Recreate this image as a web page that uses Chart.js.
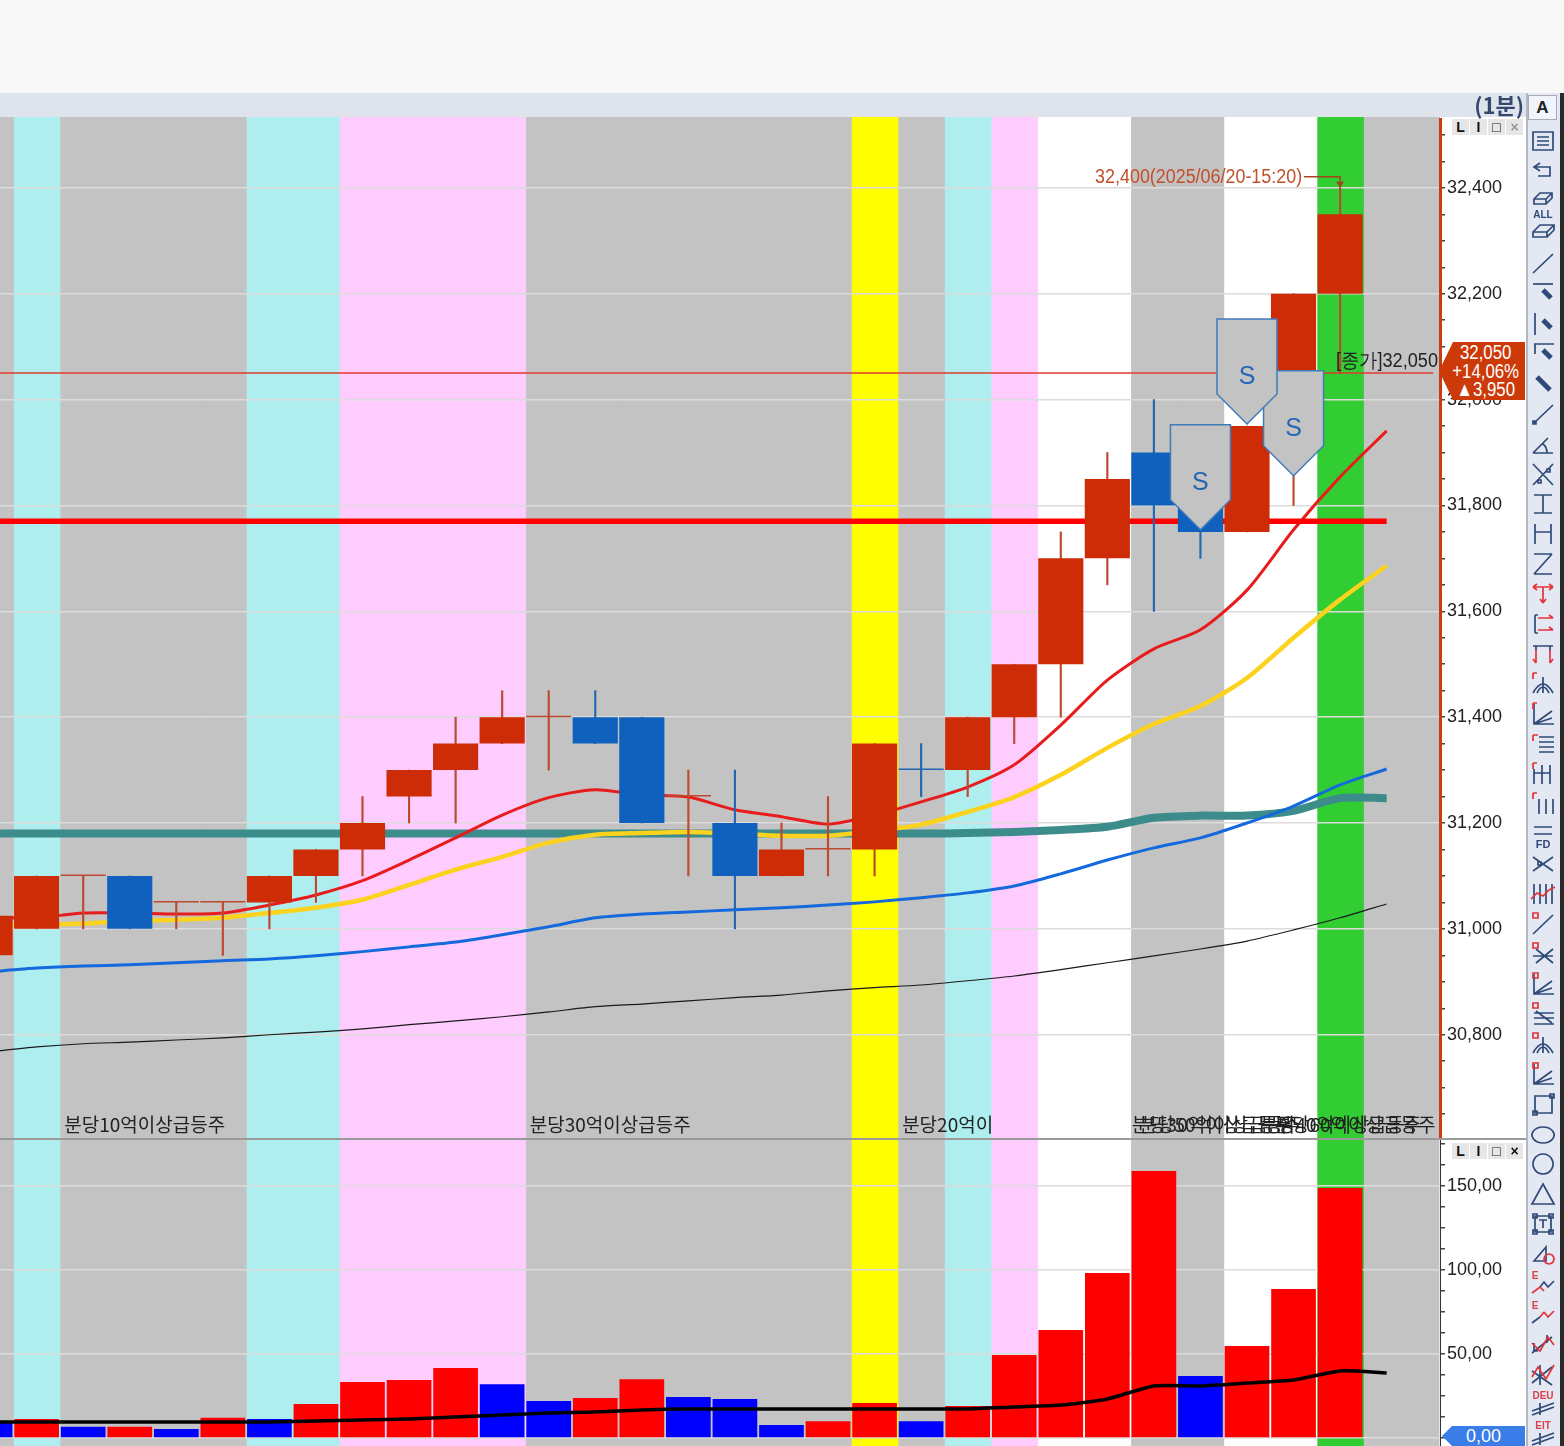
<!DOCTYPE html>
<html>
<head>
<meta charset="utf-8">
<title>1분 차트</title>
<script src="https://cdn.jsdelivr.net/npm/chart.js@4"></script>
<style>
html, body { margin: 0; padding: 0; background: #fff; width: 1564px; height: 1446px; overflow: hidden; }
canvas { position: absolute; left: 0; }
div, span { position: absolute; }
#top { left: 0; top: 0; width: 1564px; height: 93px; background: #f8f8f8; }
#strip { left: 0; top: 93px; width: 1527px; height: 24px; background: #dfe3ec; }
#unit { right: 40px; top: 91px; font: bold 22px "Noto Sans CJK KR"; color: #33496e; line-height: 26px; }
#sep { left: 0; top: 1138px; width: 1526px; height: 2px; background: #9a9a9a; }
#tools { left: 1526px; top: 93px; width: 34px; height: 1353px; background: #e3e8f3; border-left: 2px solid #b4b8c0; box-sizing: border-box; }
#edge { left: 1560px; top: 93px; width: 4px; height: 1353px; background: #2a2a2a; }
#abtn { left: 1528px; top: 95px; width: 29px; height: 25px; background: #f1f4fa; border: 1px solid #aab; box-sizing: border-box; text-align: center; font: bold 17px "Liberation Sans"; line-height: 24px; color: #222; }
#badge { left: 1439px; top: 342px; width: 86px; height: 58px; background: #cc3a0a; clip-path: polygon(0 50%, 14px 0, 100% 0, 100% 100%, 14px 100%); }
#badge div { left: 8px; top: 1px; width: 92px; color: #fff; font: 20px/18.6px "Liberation Sans"; text-align: center; transform: scaleX(0.84); transform-origin: 0 0; }
#zero { left: 1442px; top: 1426px; width: 83px; height: 20px; background: #3a7de8; color: #fff; font: 18px/21px "Liberation Sans"; text-align: center; clip-path: polygon(0 50%, 10px 0, 100% 0, 100% 100%, 10px 100%); }
.mini { width: 17px; height: 16px; background: #e6e6e6; font: bold 14px/16px "Liberation Sans"; text-align: center; color: #111; }
</style>
</head>
<body>
<div id="top"></div>
<div id="strip"></div>
<canvas id="bands" width="1524" height="1329" style="top:117px"></canvas>
<canvas id="price" width="1524" height="1021" style="top:118px"></canvas>
<canvas id="volume" width="1524" height="306" style="top:1140px"></canvas>
<div id="sep"></div>
<div id="unit">(1분)</div>
<div id="tools"></div>
<div id="edge"></div>
<div id="abtn">A</div>
<div id="badge"><div>32,050<br>+14,06%<br>▲3,950</div></div>
<div id="zero">0,00</div>
<script>
// slot 0 sits just off the left edge, slot 30 is the empty one after the last candle
const bandKinds = ['gray','cyan','gray','gray','gray','gray','cyan','cyan','pink','pink','pink','pink','gray','gray','gray','gray','gray','gray','gray','yellow','gray','cyan','pink','white','white','gray','gray','white','white','green','gray','gray'];
const candleSide = ['up','up','up','down','up','up','up','up','up','up','up','up','up','down','down','up','down','up','up','up','down','up','up','up','up','down','down','up','up','up'];
const candleOpen = [30950,31000,31100,31100,31050,31050,31050,31100,31150,31250,31300,31350,31400,31400,31400,31250,31200,31100,31150,31150,31300,31300,31400,31500,31700,31900,31800,31750,31950,32200];
const candleClose = [31025,31100,31100,31000,31050,31050,31100,31150,31200,31300,31350,31400,31400,31350,31200,31250,31100,31150,31150,31350,31300,31400,31500,31700,31850,31800,31750,31950,32200,32350];
const candleHigh = [31025,31100,31100,31100,31050,31050,31100,31150,31250,31300,31400,31450,31450,31450,31400,31300,31300,31200,31250,31350,31350,31400,31500,31750,31900,32000,31800,31950,32200,32400];
const candleLow = [30950,31000,31000,31000,31000,30950,31000,31050,31100,31200,31200,31350,31300,31350,31200,31100,31000,31100,31100,31100,31250,31250,31350,31400,31650,31600,31700,31750,31800,32050];

const maRed = [31021,31021,31030,31030,31028,31030,31045,31064,31091,31130,31172,31215,31248,31263,31253,31249,31225,31212,31198,31215,31240,31268,31310,31385,31470,31529,31565,31640,31754,31854,31941];
const maYellow = [31008,31008,31010,31015,31017,31021,31030,31040,31055,31083,31112,31136,31163,31178,31181,31183,31180,31176,31176,31185,31197,31221,31249,31291,31342,31387,31421,31474,31550,31622,31686];
const maBlue = [30919,30926,30930,30932,30936,30940,30943,30949,30957,30966,30975,30989,31004,31021,31028,31032,31036,31040,31045,31051,31059,31068,31081,31104,31130,31153,31172,31200,31232,31272,31302];
const maBlack = [30768,30777,30783,30786,30790,30794,30800,30805,30811,30819,30826,30834,30843,30853,30858,30864,30870,30875,30883,30889,30894,30902,30911,30923,30936,30949,30962,30977,30998,31021,31047];
const maTeal = [31180,31180,31180,31180,31180,31180,31180,31180,31180,31180,31180,31180,31180,31180,31180,31180,31180,31180,31180,31180,31180,31181,31183,31187,31193,31210,31214,31214,31223,31247,31247];
const levelRed = [31770,31770,31770,31770,31770,31770,31770,31770,31770,31770,31770,31770,31770,31770,31770,31770,31770,31770,31770,31770,31770,31770,31770,31770,31770,31770,31770,31770,31770,31770,31770];
const closeLevel = [32050,32050,32050,32050,32050,32050,32050,32050,32050,32050,32050,32050,32050,32050,32050,32050,32050,32050,32050,32050,32050,32050,32050,32050,32050,32050,32050,32050,32050,32050,32050,32050];

const volumes = [9.5,11.3,6.7,6.7,5.4,12,11.3,20.2,33.3,34.5,41.7,32,22,23.8,35,24.4,23.2,7.7,10,20.8,10,19,49.4,64.3,98.2,159,36.9,54.8,88.7,148.8,0.4];
const volumeSide = ['down','up','down','up','down','up','down','up','up','up','up','down','down','up','up','down','down','down','up','up','down','up','up','up','up','up','down','up','up','up','down'];
const volumeMa = [9.5,9.5,9.5,9.5,9.5,9.5,9.5,10.1,10.7,11.3,12.5,13.7,14.9,15.5,16.7,17.3,17.3,17.3,17.3,17.3,17.3,17.3,18.5,19.6,23.2,31,31,32.7,34.5,39.9,38.7];

const sellSlots = [28, 27, 26];
const sellPrices = [31856, 31954, 31754];
const noteSlots = [2, 12, 20, 24.93, 25.1, 27.7, 28];
const noteTexts = ['분당10억이상급등주','분당30억이상급등주','분당20억이','분당30억이상급등주','분당50억이상급등주','분당40억이상급등주','분당60억이상급등주'];
const highSlot = 29, highPrice = 32400, highText = '32,400(2025/06/20-15:20)';
const closeText = '[종가]32,050';

const SANS = '"Liberation Sans"';
const KR = '"Noto Sans CJK KR"';
const bandColors = { gray: '#c3c3c3', cyan: '#aeeeee', pink: '#ffccff', yellow: '#ffff00', white: '#ffffff', green: '#32cd32' };
const bodyColors = { up: '#cd2c06', down: '#1060be' };
const wickColors = { up: '#bb4a2e', down: '#2467b4' };
const volColors = { up: '#ff0000', down: '#0000ff' };

const slotMin = 0.213, slotMax = 31.146;
const pts = vals => vals.map((v, i) => ({ x: i, y: v }));
const noPad = s => { s.paddingTop = 0; s.paddingBottom = 0; s.paddingLeft = 0; s.paddingRight = 0; };
const xAxis = {
    type: 'linear', min: slotMin, max: slotMax, offset: false,
    grid: { color: '#e6e2e6', drawTicks: false, lineWidth: 1.5 },
    border: { display: false },
    ticks: { display: false },
    afterBuildTicks(s) { s.ticks = [{ value: 8.52 }]; },
    afterFit(s) { s.height = 0; noPad(s); }
};
const lineSet = (vals, color, width, order) => ({
    type: 'line', data: pts(vals), borderColor: color, borderWidth: width,
    pointRadius: 0, tension: 0.25, order: order, yAxisID: 'y'
});

const overlay = {
    id: 'overlay',
    afterDatasetsDraw(chart) {
        const c = chart.ctx, xs = chart.scales.x, ys = chart.scales.y;
        c.save();
        // annotation strings along the bottom of the price panel
        c.font = '19px ' + KR;
        c.fillStyle = '#222';
        c.textBaseline = 'middle';
        c.textAlign = 'left';
        noteTexts.forEach((t, i) => {
            c.fillText(t, xs.getPixelForValue(noteSlots[i]) - 19, ys.getPixelForValue(30630));
        });
        // sell markers
        sellSlots.forEach((s, i) => {
            const x = xs.getPixelForValue(s), y = ys.getPixelForValue(sellPrices[i]);
            c.beginPath();
            c.moveTo(x, y);
            c.lineTo(x + 30, y - 30);
            c.lineTo(x + 30, y - 105);
            c.lineTo(x - 30, y - 105);
            c.lineTo(x - 30, y - 30);
            c.closePath();
            c.fillStyle = '#c3c3c3';
            c.fill();
            c.strokeStyle = '#3f7cba';
            c.lineWidth = 1.5;
            c.stroke();
            c.fillStyle = '#2467b4';
            c.font = '25px ' + SANS;
            c.textAlign = 'center';
            c.fillText('S', x, y - 47);
        });
        // highest price callout
        const hx = xs.getPixelForValue(highSlot), hy = ys.getPixelForValue(highPrice);
        c.strokeStyle = '#a8431c';
        c.lineWidth = 1.5;
        c.beginPath();
        c.moveTo(hx - 36, hy - 11);
        c.lineTo(hx, hy - 11);
        c.lineTo(hx, hy);
        c.stroke();
        c.fillStyle = '#a8431c';
        c.beginPath();
        c.moveTo(hx - 4, hy - 6);
        c.lineTo(hx + 4, hy - 6);
        c.lineTo(hx, hy);
        c.fill();
        c.fillStyle = '#c2502c';
        c.font = '20px ' + SANS;
        c.textAlign = 'right';
        c.fillText(highText, hx - 38, hy - 10, 207);
        // close label
        c.fillStyle = '#222';
        c.fillText(closeText, 1438, ys.getPixelForValue(closeLevel[0]) - 12, 102);
        c.restore();
    }
};

new Chart(document.getElementById('bands'), {
    type: 'bar',
    data: { datasets: [{
        data: bandKinds.map((k, i) => ({ x: i, y: [0, 1] })),
        backgroundColor: bandKinds.map(k => bandColors[k]),
        barPercentage: 1, categoryPercentage: 1, inflateAmount: 0.5
    }] },
    options: {
        responsive: false, animation: false,
        layout: { padding: { right: 84 } },
        plugins: { legend: { display: false }, tooltip: { enabled: false } },
        scales: {
            x: { type: 'linear', min: 0.192, max: 31.125, offset: false, display: false },
            y: { min: 0, max: 1, display: false }
        }
    }
});

const wickSet = {
    data: candleLow.map((v, i) => ({ x: i, y: [v, candleHigh[i]] })),
    backgroundColor: candleSide.map(s => wickColors[s]),
    barThickness: 1.5, grouped: false, order: 2, yAxisID: 'y'
};
const bodySet = {
    data: candleOpen.map((v, i) => ({ x: i, y: [Math.min(v, candleClose[i]), Math.max(v, candleClose[i])] })),
    backgroundColor: candleSide.map((s, i) => candleOpen[i] === candleClose[i] ? wickColors[s] : bodyColors[s]),
    barPercentage: 0.97, categoryPercentage: 1, minBarLength: 1.5, grouped: false, order: 1, yAxisID: 'y'
};

new Chart(document.getElementById('price'), {
    type: 'bar',
    data: { datasets: [
        bodySet,
        wickSet,
        lineSet(levelRed, '#ff0000', 5.5, 3),
        lineSet(closeLevel, '#e03a30', 1.5, 4),
        lineSet(maRed, '#e81c1c', 3, 5),
        lineSet(maYellow, '#fbd21e', 4.5, 6),
        lineSet(maBlue, '#1469dc', 3, 7),
        lineSet(maBlack, '#1a1a1a', 1.2, 8),
        lineSet(maTeal, '#3d8c8c', 8, 9)
    ] },
    plugins: [overlay],
    options: {
        responsive: false, animation: false,
        layout: { padding: 0 },
        plugins: { legend: { display: false }, tooltip: { enabled: false } },
        scales: {
            x: xAxis,
            y: {
                position: 'right', min: 30603, max: 32532,
                afterFit(s) { s.width = 84; noPad(s); },
                border: { color: '#cc3a12', width: 3 },
                grid: {
                    tickLength: 5, tickColor: '#444', lineWidth: 1.5,
                    color: ctx => ctx.tick && ctx.tick.value % 200 === 0 ? '#dcdcdc' : 'transparent'
                },
                ticks: {
                    stepSize: 50, autoSkip: false, includeBounds: false, padding: 2, color: '#222',
                    font: { family: SANS, size: 18 },
                    callback: v => v % 200 === 0 ? v.toLocaleString('en-US') : ''
                }
            }
        }
    }
});

new Chart(document.getElementById('volume'), {
    type: 'bar',
    data: { datasets: [
        {
            data: pts(volumes), backgroundColor: volumeSide.map(s => volColors[s]),
            barPercentage: 0.96, categoryPercentage: 1, grouped: false, order: 2
        },
        { type: 'line', data: pts(volumeMa), borderColor: '#000', borderWidth: 3.5, pointRadius: 0, tension: 0.2, order: 1 }
    ] },
    options: {
        responsive: false, animation: false,
        layout: { padding: 0 },
        plugins: { legend: { display: false }, tooltip: { enabled: false } },
        scales: {
            x: xAxis,
            y: {
                position: 'right', min: -4.76, max: 177.4,
                afterFit(s) { s.width = 84; noPad(s); },
                border: { color: '#333', width: 1 },
                grid: {
                    tickLength: 5, tickColor: '#444', lineWidth: 1.5,
                    color: ctx => ctx.tick && ctx.tick.value % 50 === 0 ? '#dcdcdc' : 'transparent'
                },
                ticks: {
                    stepSize: 12.5, autoSkip: false, includeBounds: false, padding: 2, color: '#222',
                    font: { family: SANS, size: 18 },
                    callback: v => v % 50 === 0 && v > 0 ? v.toFixed(2).replace('.', ',') : ''
                }
            }
        }
    }
});

// small L I box x buttons on each panel
[119, 1143].forEach(top => {
    ['L', 'I', '□', '×'].forEach((t, i) => {
        const b = document.createElement('span');
        b.className = 'mini';
        b.style.left = (1452 + i * 18) + 'px';
        b.style.top = top + 'px';
        b.textContent = t;
        if (top === 119 && i === 3) b.style.color = '#999';
        document.body.appendChild(b);
    });
});

// drawing toolbar: [navy path, red path, small caption, thick pen path]
const PEN = 'M15 11l8 8';
const toolIcons = [
    ['M5 3h20v18H5z M9 8h12M9 12h12M9 16h12'],
    ['M7 8h15v9H10 M12 4L6 8l6 4'],
    ['M6 10l6-6h12v5l-6 6H6z M6 10h12v5M18 10l6-6', '', 'ALL'],
    ['M5 13l7-7h14v5l-7 7H5z M5 13h14v5M19 13l7-7'],
    ['M5 24L25 5'],
    ['M5 5h20', '', '', PEN],
    ['M7 4v22', '', '', PEN],
    ['M6 5h20 M7 5v10', '', '', PEN],
    ['', '', '', 'M9 8l13 13'],
    ['M6 24L25 6 M5 22h3v3H5z'],
    ['M5 24h20 M5 24L20 9 M15 15q4 3 4 9'],
    ['M5 26L25 5 M5 5l20 21 M10 21h3v3h-3z M19 10h3v3h-3z'],
    ['M6 6h18 M6 24h18 M15 6v18'],
    ['M7 5v20 M23 5v20 M7 13h16'],
    ['M6 5h18 M6 25h18 M24 5L6 25'],
    ['', 'M5 8h20 M5 8l4-3 M5 8l4 3 M25 8l-4-3 M25 8l-4 3 M15 8v16 M15 24l-3-4 M15 24l3-4'],
    ['M7 6v18 M7 6h3 M7 24h3', 'M10 9h15 M10 21h15 M25 9l-4-3 M25 21l-4-3'],
    ['M5 7h20 M8 7v4 M22 7v4', 'M8 11v13 M22 11v13 M8 24l-3-4 M22 24l3-4'],
    ['M5 24q10-18 20 0 M15 8v16 M9 24q6-12 12 0', 'M5 4h4 M5 4v6'],
    ['M6 5v20h20 M6 25L24 12 M6 25l18-6', 'M5 4h4 M5 4v6'],
    ['M11 8h15 M11 13h15 M11 18h15 M11 23h15', 'M5 6h5 M5 6v6'],
    ['M6 10v15 M14 6v19 M22 6v19 M6 14h16', 'M5 4h4 M5 4v6'],
    ['M11 10v15 M18 10v15 M25 10v15', 'M5 4h4 M5 4v6'],
    ['M6 8h18 M6 15h18', '', 'FD'],
    ['M5 22L25 8 M5 8l20 14 M10 13h3v3h-3z'],
    ['M6 5v20 M12 5v20 M18 5v20 M24 5v20', 'M3 20l6-6 6 3 6-6 6-3'],
    ['M5 25L25 6', 'M5 4h5v5H5z'],
    ['M8 24L25 10 M8 10l17 14 M5 17h20', 'M5 4h5v5H5z'],
    ['M6 5v20h20 M6 25L24 12 M6 25l18-6', 'M5 4h5v5H5z'],
    ['M6 14h20 M6 19h20 M6 25h20 M8 12l16 12', 'M5 4h5v5H5z'],
    ['M5 24q10-18 20 0 M15 8v16 M9 24q6-12 12 0', 'M5 4h5v5H5z'],
    ['M6 5v20h20 M6 25L24 12 M6 25l18-6', 'M5 4h5v5H5z'],
    ['M7 7h17v17H7z M5 22h4v4H5z M22 5h4v4h-4z'],
    ['M15 8a11 8 0 1 0 .1 0z'],
    ['M15 5a10 10 0 1 0 .1 0z'],
    ['M15 5L26 25H4z'],
    ['M7 7h16v16H7z M5 5h4v4H5z M21 5h4v4h-4z M5 21h4v4H5z M21 21h4v4h-4z M11 11h8M15 11v8'],
    ['M6 22L18 8v14z M6 22h12', 'M21 15a5 5 0 1 0 .1 0z'],
    ['M12 18l4-5 4 5 6-6', 'M4 24l8-6 4 4', 'E'],
    ['M4 24l8-6', 'M12 18l4-5 M16 13l4 5 6-6', 'E'],
    ['M4 24l20-16 M6 14v8h4 M19 6v8', 'M4 14l8 8 8-14 6 8'],
    ['M4 24l20-16 M4 12l20 14 M12 6v20', 'M4 18l6-10 8 12 8-14'],
    ['M4 26l22-8 M4 22l22-8 M12 14v12', '', 'DEU'],
    ['M4 26l22-8 M4 22l22-8 M12 14v12', '', 'EIT']
];
toolIcons.forEach((ic, i) => {
    const top = 129 + i * 30;
    const low = ic[2] === 'ALL' || ic[2] === 'FD';
    const cap = ic[2] ? `<text x="${ic[2] === 'E' ? 7 : 15}" y="${low ? 29 : 10}" font-family="Liberation Sans" font-weight="bold" font-size="${ic[2] === 'FD' ? 11 : 10}" text-anchor="middle" fill="${low ? '#2f4a78' : '#d9424a'}">${ic[2]}</text>` : '';
    const d = document.createElement('div');
    d.style.cssText = `left:1528px;top:${top}px;width:30px;height:30px`;
    d.innerHTML = `<svg width="30" height="30" viewBox="0 0 30 30" fill="none"><path d="${ic[0] || ''}" stroke="#2f4a78" stroke-width="1.7"/><path d="${ic[1] || ''}" stroke="#e2333a" stroke-width="1.7"/><path d="${ic[3] || ''}" stroke="#2f4a78" stroke-width="5"/>${cap}</svg>`;
    document.body.appendChild(d);
});
</script>
</body>
</html>
